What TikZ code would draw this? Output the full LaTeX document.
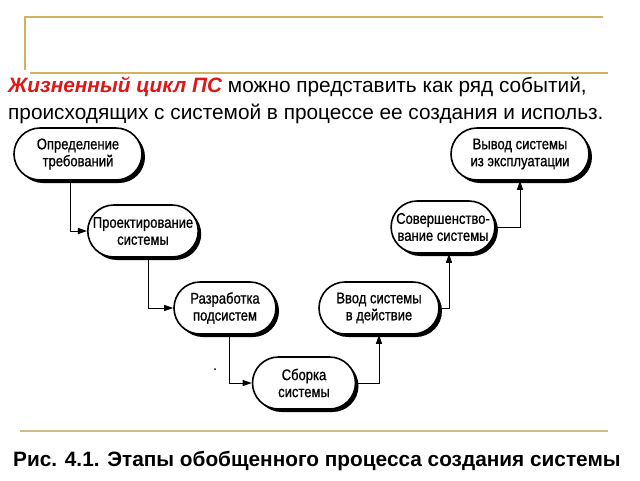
\documentclass[tikz,border=0pt]{standalone}
\usepackage{fontspec}
\setmainfont{Liberation Sans}
\newfontfamily\narrowfont[FakeStretch=0.84,FakeBold=0.8]{Liberation Sans}
\usetikzlibrary{shapes.misc,shadows,arrows.meta}
\definecolor{gold}{RGB}{212,178,92}
\definecolor{tanline}{RGB}{205,190,135}
\definecolor{redtxt}{RGB}{222,24,24}
\begin{document}
\begin{tikzpicture}[x=1pt,y=-1pt,
  stage/.style={rounded rectangle, draw=black, line width=1.6pt, fill=white,
    minimum height=52pt, inner sep=1pt, align=center,
    font=\narrowfont\fontsize{15.5}{17}\selectfont,
    drop shadow={shadow xshift=3pt, shadow yshift=-3pt, fill=black, opacity=1}},
  arr/.style={line width=1pt, -{Triangle[length=9pt,width=6pt]}},
  goldline/.style={gold, line width=1.2pt}]
\useasboundingbox (0,0) rectangle (640,480);
\fill[white] (0,0) rectangle (640,480);
% frame lines
\draw[goldline] (25,70) -- (25,17) -- (603,17);
\draw[goldline] (30,73) -- (608,73);
% header text
\node[anchor=base west, inner sep=0, font=\fontsize{20.8}{24}\selectfont] (t1) at (8,92)
  {\textcolor{redtxt}{\bfseries\itshape Жизненный цикл ПС} можно представить как ряд событий,};
\node[anchor=base west, inner sep=0, font=\fontsize{20.8}{24}\selectfont] (t2) at (8,119)
  {происходящих с системой в процессе ее создания и использ.};
% stages
\node[stage, minimum width=130pt] (n1) at (78,154) {Определение\\требований};
\node[stage, minimum width=109pt] (n2) at (143,231) {Проектирование\\системы};
\node[stage, minimum width=104pt] (n3) at (225,308) {Разработка\\подсистем};
\node[stage, minimum width=105pt] (n4) at (304,383) {Сборка\\системы};
\node[stage, minimum width=122pt] (n5) at (379,308) {Ввод системы\\в действие};
\node[stage, minimum width=102pt] (n6) at (443,227) {Совершенство-\\вание системы};
\node[stage, minimum width=140pt] (n7) at (520,154) {Вывод системы\\из эксплуатации};
% connectors
\draw[arr] ([xshift=-8pt]n1.south) |- (n2.west);
\draw[arr] ([xshift=5pt]n2.south) |- (n3.west);
\draw[arr] ([xshift=4pt]n3.south) |- (n4.west);
\draw[arr] (n4.east) -| (n5.south);
\draw[arr] (n5.east) -| ([xshift=6pt]n6.south);
\draw[arr] (n6.east) -| (n7.south);
\fill (215,369) circle (1pt);
% caption
\draw[tanline, line width=1.2pt] (20,431) -- (608,431);
\node[anchor=base west, inner sep=0, font=\bfseries\fontsize{20.8}{24}\selectfont] (cap) at (13,466)
  {Рис. 4.1. Этапы обобщенного процесса создания системы};
\end{tikzpicture}
\end{document}
